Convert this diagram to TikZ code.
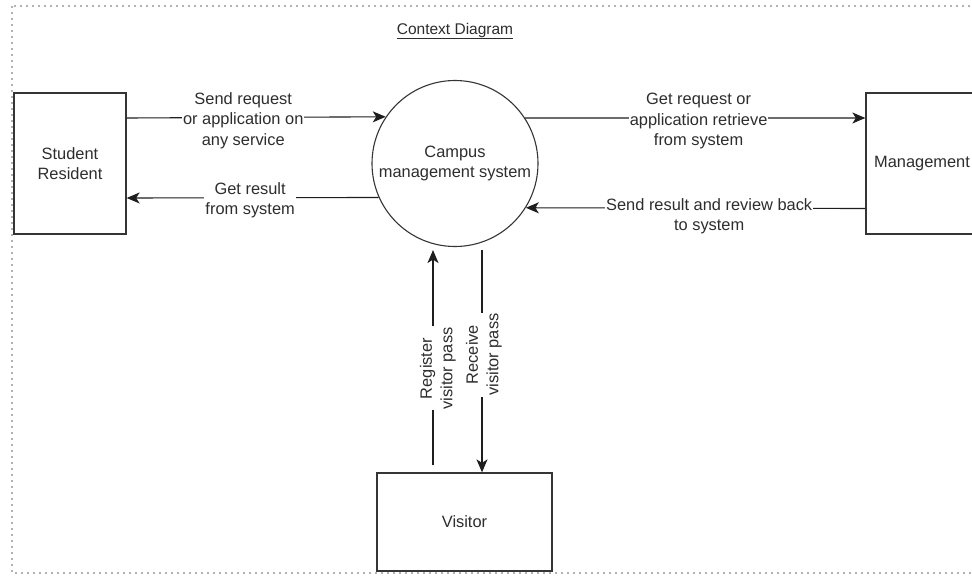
\documentclass[tikz,border=0pt]{standalone}
\usepackage{fontspec}
\setmainfont{Liberation Sans}
\usetikzlibrary{arrows.meta}
\definecolor{txt}{RGB}{45,45,45}
\definecolor{ln}{RGB}{30,30,30}
\begin{document}
\begin{tikzpicture}[x=1pt,y=-1pt,
  every node/.style={font=\fontsize{16.4}{20.5}\selectfont, text=txt},
  entity/.style={draw=ln!90, line width=1.3pt, fill=white, align=center, inner sep=0pt},
  proc/.style={circle, draw=ln!90, line width=1.1pt, fill=white, align=center, inner sep=0pt, minimum size=166pt},
  flow/.style={draw=ln, line width=1.1pt, -{Stealth[length=13pt,width=11pt,inset=3.5pt]}},
  lbl/.style={fill=white, align=center, inner sep=1pt},
  frame/.style={draw=black!30, line width=1.8pt, dash pattern=on 1.8pt off 4.2pt}
]
\useasboundingbox (0,0) rectangle (972,576);
\clip (0,0) rectangle (972,576);
\fill[white] (0,0) rectangle (972,576);
\draw[frame] (12,6) rectangle (995,573);

\node (title) at (455,31) {\fontsize{15.5}{18}\selectfont\underline{Context Diagram}};

\node[entity, minimum width=112pt, minimum height=141pt] (student) at (70,163.5) {Student\\Resident};
\node[proc] (sys) at (455,163.5) {Campus\\management system};
\node[entity, minimum width=112pt, minimum height=141pt] (mgmt) at (922,163.5) {Management};
\node[entity, minimum width=175pt, minimum height=98pt] (visitor) at (464.5,522) {Visitor};

% Student <-> system
\draw[flow] ([yshift=45.5pt]student.east) -- (sys.146.8)
  node[lbl, pos=0.45, yshift=-3pt] (l1) {Send request\\or application on\\any service};
\draw[flow] (sys.204.6) -- ([yshift=-34.5pt]student.east)
  node[lbl, pos=0.51, yshift=-2.5pt] (l2) {Get result\\from system};

% system <-> management
\draw[flow] (sys.33.2) -- ([yshift=45.5pt]mgmt.west)
  node[lbl, pos=0.51, yshift=-3pt] (l3) {Get request or\\application retrieve\\from system};
\draw[flow] ([yshift=-45pt]mgmt.west) -- (sys.-32.8)
  node[lbl, pos=0.46, yshift=-8pt] (l4) {Send result and review back\\to system};

% visitor <-> system
\draw[flow] ([xshift=-31.5pt,yshift=7pt]visitor.north) -- ([xshift=-22pt,yshift=-3pt]sys.south)
  node[lbl, pos=0.45, rotate=90, yshift=-5pt] (l5) {Register\\visitor pass};
\draw[flow] ([xshift=27pt,yshift=-3pt]sys.south) -- ([xshift=17.5pt]visitor.north)
  node[lbl, pos=0.47, rotate=90, yshift=-2pt] (l6) {Receive\\visitor pass};
\end{tikzpicture}
\end{document}
